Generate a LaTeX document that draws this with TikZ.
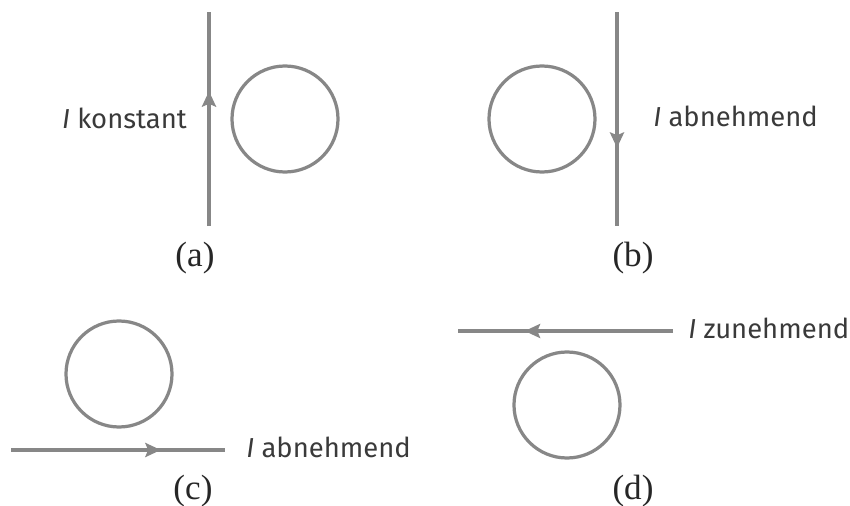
\documentclass[tikz,border=0pt]{standalone}
\usepackage{fontspec}
\setmainfont{Liberation Serif}
\newfontfamily\beschriftfont{Fira Sans}
\usetikzlibrary{arrows.meta,decorations.markings}
\definecolor{drahtgrau}{HTML}{878787}
\definecolor{schriftgrau}{HTML}{3A3A3A}
\tikzset{
  draht/.style={color=drahtgrau, line width=2.5pt, postaction={decorate},
    decoration={markings, mark=at position #1 with {\arrow{Stealth[length=11pt,width=10pt,inset=2pt]}}}},
  ring/.style={draw=drahtgrau, line width=2.3pt},
  strom/.style={text=schriftgrau, font=\beschriftfont\fontsize{19.5}{23}\selectfont, inner sep=0pt},
  teil/.style={text=black!85, font=\fontsize{25}{30}\selectfont, inner sep=0pt}
}
\begin{document}
\begin{tikzpicture}[x=0.025cm,y=-0.025cm]
		\useasboundingbox (0,0) rectangle (850,506);
		% (a) Strom konstant
		\coordinate (a-unten) at (209,226);
		\coordinate (a-oben) at (209,12);
		\coordinate (a-mitte) at (285,119);
		\draw[draht=0.63] (a-unten)--(a-oben);
		\draw[ring] (a-mitte) circle[radius=53];
		\node[strom,anchor=base east] (a-strom) at (187,128) {\textit{I} konstant};
		\node[teil] (a-teil) at (195,258) {(a)};
		% (b) Strom abnehmend
		\coordinate (b-oben) at (617,12);
		\coordinate (b-unten) at (617,226);
		\coordinate (b-mitte) at (542,119);
		\draw[draht=0.635] (b-oben)--(b-unten);
		\draw[ring] (b-mitte) circle[radius=53];
		\node[strom,anchor=base west] (b-strom) at (653,126) {\textit{I} abnehmend};
		\node[teil] (b-teil) at (633,258) {(b)};
		% (c) Strom abnehmend
		\coordinate (c-links) at (11,450);
		\coordinate (c-rechts) at (225,450);
		\coordinate (c-mitte) at (119,374);
		\draw[draht=0.70] (c-links)--(c-rechts);
		\draw[ring] (c-mitte) circle[radius=53];
		\node[strom,anchor=base west] (c-strom) at (246,457) {\textit{I} abnehmend};
		\node[teil] (c-teil) at (193,491) {(c)};
		% (d) Strom zunehmend
		\coordinate (d-rechts) at (673,331);
		\coordinate (d-links) at (458,331);
		\coordinate (d-mitte) at (567,405);
		\draw[draht=0.69] (d-rechts)--(d-links);
		\draw[ring] (d-mitte) circle[radius=53];
		\node[strom,anchor=base west] (d-strom) at (688,338) {\textit{I} zunehmend};
		\node[teil] (d-teil) at (633,491) {(d)};
\end{tikzpicture}
\end{document}
